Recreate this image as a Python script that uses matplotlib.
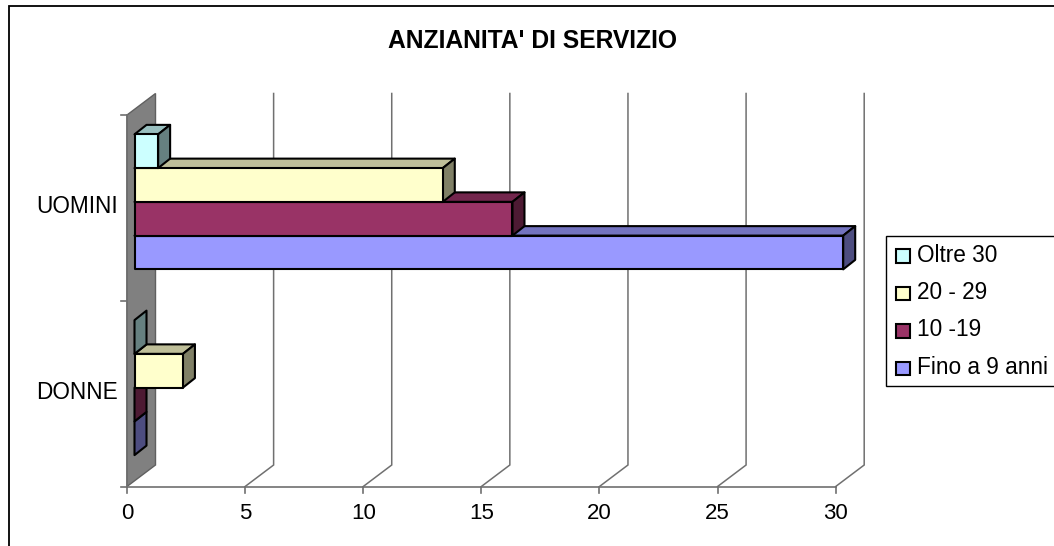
import matplotlib
matplotlib.use("Agg")
import matplotlib.pyplot as plt
from matplotlib.patches import Polygon, Rectangle

plt.rcParams['font.family'] = ['Liberation Sans', 'DejaVu Sans']

W, H = 1054, 546

TITLE = "ANZIANITA' DI SERVIZIO"
CATEGORIES = ["DONNE", "UOMINI"]
SERIES = ["Fino a 9 anni", "10 -19", "20 - 29", "Oltre 30"]
FINO_9 = [0, 30]
DA_10_19 = [0, 16]
DA_20_29 = [2.05, 13.05]
OLTRE_30 = [0, 1]
XTICKS = [0, 5, 10, 15, 20, 25, 30]
COLORS = ["#9999FF", "#993366", "#FFFFCC", "#CCFFFF"]

# pixel layout of the plot box
X0, X1 = 127.0, 835.7
Y_TOP, Y_BOT = 115.0, 486.5
PX_X = (X1 - X0) / 30
PX_Y = (Y_BOT - Y_TOP) / 2
# oblique depth of the floor and of the bars, in pixels
WALL_DX, WALL_DY = 28.5, 21.5
BAR_OFF_DX, BAR_OFF_DY = 7.5, 6.0
BAR_DX, BAR_DY = 12.0, 9.5
BAR_H = 33.75 / PX_Y


def shade(hex_color, k):
    rgb = matplotlib.colors.to_rgb(hex_color)
    return tuple(c * k for c in rgb)


def px_dx(d):
    return d / PX_X


def px_dy(d):
    return d / PX_Y


def box3d(ax, left, right, low, color, z=3):
    """front, top and side faces of one bar, in data units"""
    dx, dy = px_dx(BAR_DX), px_dy(BAR_DY)
    high = low + BAR_H
    kw = dict(edgecolor="black", linewidth=1.5, joinstyle="round", clip_on=False, zorder=z)
    if right > left:
        ax.add_patch(Polygon([(left, high), (left + dx, high + dy), (right + dx, high + dy), (right, high)],
                             facecolor=shade(color, 0.75), **kw))
    ax.add_patch(Polygon([(right, low), (right + dx, low + dy), (right + dx, high + dy), (right, high)],
                         facecolor=shade(color, 0.5), **kw))
    if right > left:
        ax.add_patch(Rectangle((left, low), right - left, BAR_H, facecolor=color, **kw))


def main():
    fig = plt.figure(figsize=(W / 100, H / 100), dpi=100, facecolor="white")
    ax = fig.add_axes([X0 / W, 1 - Y_BOT / H, (X1 - X0) / W, (Y_BOT - Y_TOP) / H])
    ax.set_xlim(0, 30)
    ax.set_ylim(0, 2)
    ax.axis("off")

    wx, wy = px_dx(WALL_DX), px_dy(WALL_DY)
    grid = "#707070"

    # grey side wall
    ax.add_patch(Polygon([(0, 0), (wx, wy), (wx, 2 + wy), (0, 2)], facecolor="#808080",
                         edgecolor="#606060", linewidth=1, clip_on=False, zorder=1))
    # floor diagonals + back wall gridlines
    for t in XTICKS[1:]:
        ax.plot([t, t + wx, t + wx], [0, wy, 2 + wy], color=grid, linewidth=1.1,
                clip_on=False, zorder=1, solid_joinstyle="miter")
    # axis lines and ticks
    ax.plot([0, 30], [0, 0], color=grid, linewidth=1.2, clip_on=False, zorder=2)
    ax.plot([0, 0], [0, 2], color=grid, linewidth=1.2, clip_on=False, zorder=2)
    for t in XTICKS:
        ax.plot([t, t], [0, -px_dy(6)], color=grid, linewidth=1.2, clip_on=False, zorder=2)
        ax.text(t, -px_dy(27), str(t), ha="center", va="center", fontsize=16, color="black")
    for k in range(3):
        ax.plot([0, -px_dx(6)], [k, k], color=grid, linewidth=1.2, clip_on=False, zorder=2)

    # bars, lowest series first so the upper ones lie over their top faces
    values = [FINO_9, DA_10_19, DA_20_29, OLTRE_30]
    for c, cat in enumerate(CATEGORIES):
        base = c + 0.5 - 2 * BAR_H + px_dy(BAR_OFF_DY)
        left = px_dx(BAR_OFF_DX)
        for s, vals in enumerate(values):
            box3d(ax, left, left + vals[c], base + s * BAR_H, COLORS[s], z=3 + s)
        ax.text(-px_dx(9.5), c + 0.5 + px_dy(1.5), cat, ha="right", va="center", fontsize=16.3, color="black")

    # figure coordinates in pixels for frame, title and legend
    over = fig.add_axes([0, 0, 1, 1], facecolor="none")
    over.set_xlim(0, W)
    over.set_ylim(H, 0)
    over.axis("off")
    over.plot([8.7, 8.7, W], [H, 6, 6], color="black", linewidth=1.3, solid_joinstyle="miter")
    over.text(532, 41, TITLE, ha="center", va="center", fontsize=17.7, fontweight="bold", color="black")

    over.add_patch(Rectangle((886, 235.5), 180, 150, facecolor="white", edgecolor="black", linewidth=1))
    names = SERIES[::-1]
    cols = COLORS[::-1]
    for i, (n, col) in enumerate(zip(names, cols)):
        y = 255.5 + i * 37.5
        over.add_patch(Rectangle((895.5, y - 6.5), 14, 13.5, facecolor=col, edgecolor="black", linewidth=1.5))
        over.text(917, y - 0.5, n, ha="left", va="center", fontsize=16.3, color="black")

    fig.savefig("out.png", dpi=100, facecolor="white")
    plt.close(fig)


if __name__ == "__main__":
    main()
